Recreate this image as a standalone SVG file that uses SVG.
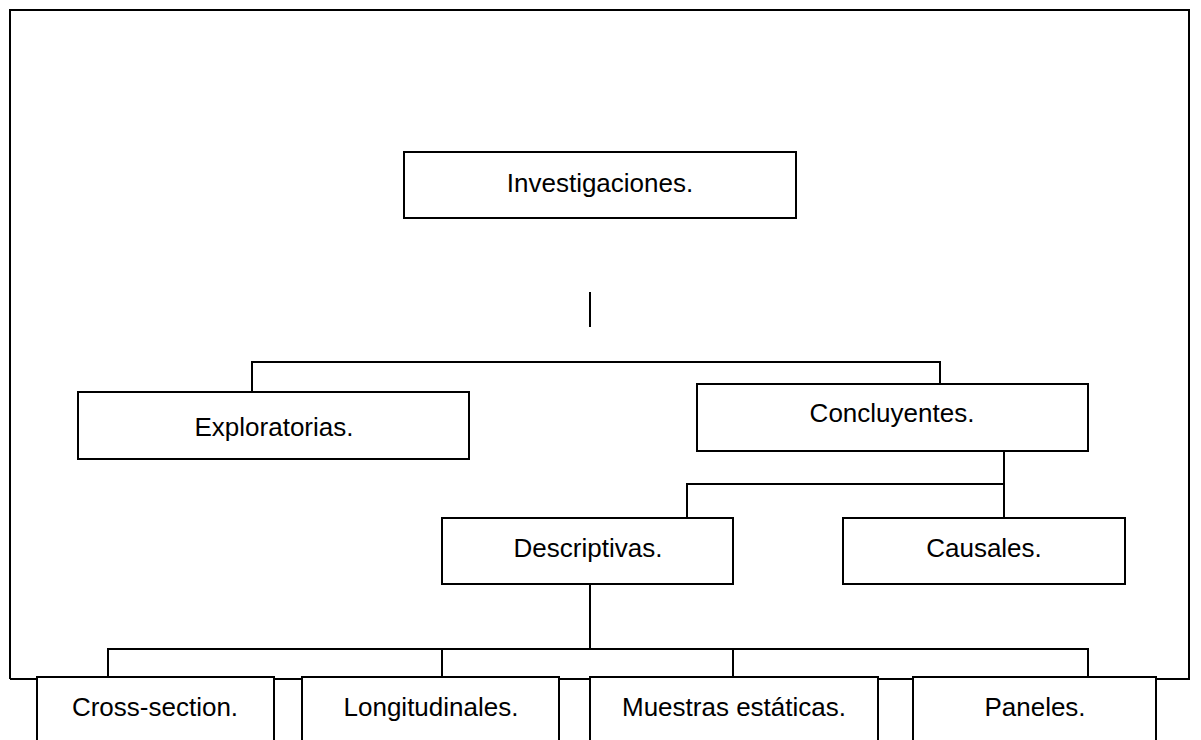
<svg xmlns="http://www.w3.org/2000/svg" width="1201" height="740" viewBox="0 0 1201 740">
<style>
.box{fill:#fff;stroke:#000;stroke-width:2}
.ln{fill:none;stroke:#000;stroke-width:2}
.t{font-family:"Liberation Sans",Arial,sans-serif;font-size:26px;fill:#000;text-anchor:middle}
</style>
<rect width="1201" height="740" fill="#fff"/>
<path id="frame" class="ln" d="M10,679 V10 H1189 V679 H10"/>
<g id="connectors">
<path class="ln" d="M590,292 V327"/>
<path class="ln" d="M252,392 V362 H940 V384"/>
<path class="ln" d="M1004,451 V518"/>
<path class="ln" d="M687,518 V484 H1004"/>
<path class="ln" d="M590,584 V649"/>
<path class="ln" d="M108,677 V649 H1088 V677"/>
<path class="ln" d="M442,649 V677"/>
<path class="ln" d="M733,649 V677"/>
</g>
<g id="investigaciones"><rect class="box" x="404" y="152" width="392" height="66"/><text class="t" x="600" y="192">Investigaciones.</text></g>
<g id="exploratorias"><rect class="box" x="78" y="392" width="391" height="67"/><text class="t" x="274" y="436">Exploratorias.</text></g>
<g id="concluyentes"><rect class="box" x="697" y="384" width="391" height="67"/><text class="t" x="892" y="422">Concluyentes.</text></g>
<g id="descriptivas"><rect class="box" x="442" y="518" width="291" height="66"/><text class="t" x="588" y="557">Descriptivas.</text></g>
<g id="causales"><rect class="box" x="843" y="518" width="282" height="66"/><text class="t" x="984" y="557">Causales.</text></g>
<g id="cross-section"><rect class="box" x="37" y="677" width="237" height="100"/><text class="t" x="155" y="716">Cross-section.</text></g>
<g id="longitudinales"><rect class="box" x="302" y="677" width="257" height="100"/><text class="t" x="431" y="716">Longitudinales.</text></g>
<g id="muestras"><rect class="box" x="590" y="677" width="288" height="100"/><text class="t" x="734" y="716">Muestras estáticas.</text></g>
<g id="paneles"><rect class="box" x="913" y="677" width="243" height="100"/><text class="t" x="1035" y="716">Paneles.</text></g>
</svg>
